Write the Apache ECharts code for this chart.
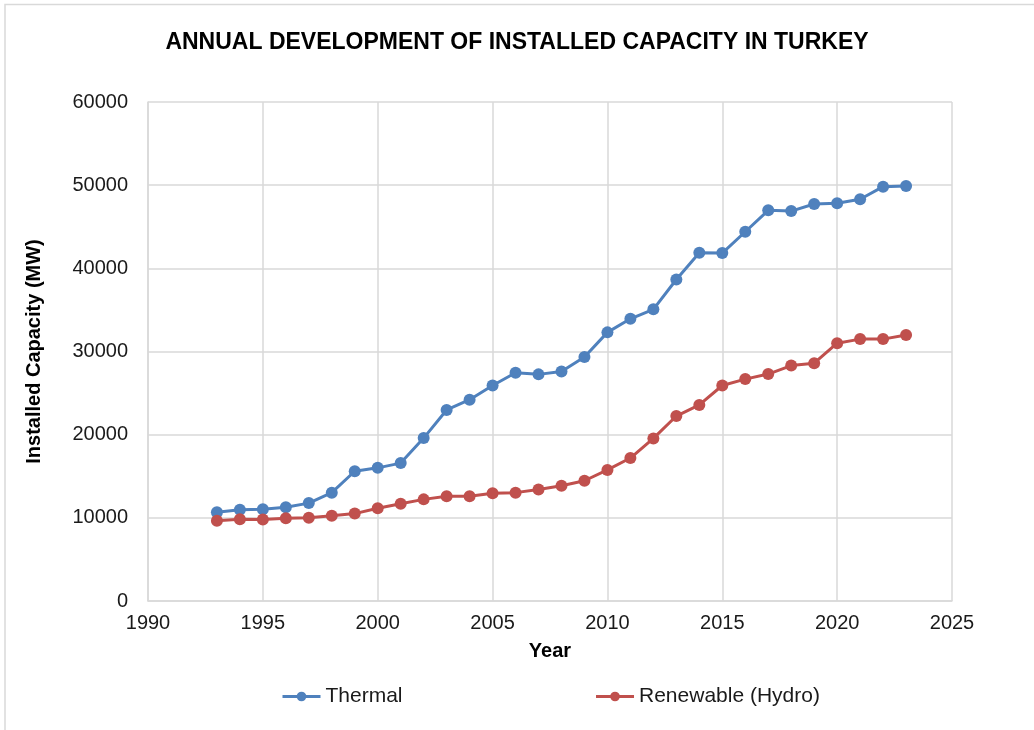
<!DOCTYPE html>
<html>
<head>
<meta charset="utf-8">
<script src="https://cdn.jsdelivr.net/npm/echarts@6/dist/echarts.min.js"></script>
<style>
  html, body { margin: 0; padding: 0; background: #fff; }
  #chart { width: 1034px; height: 730px; }
</style>
</head>
<body>
<div id="chart"></div>
<script>
var years = [1993, 1994, 1995, 1996, 1997, 1998, 1999, 2000, 2001, 2002, 2003, 2004, 2005, 2006, 2007, 2008,
             2009, 2010, 2011, 2012, 2013, 2014, 2015, 2016, 2017, 2018, 2019, 2020, 2021, 2022, 2023];
var thermal = [10670, 10960, 11040, 11280, 11770, 13030, 15600, 16010, 16580, 19590, 22970, 24200, 25910, 27450, 27250, 27600,
               29330, 32300, 33930, 35070, 38660, 41870, 41830, 44400, 46970, 46880, 47740, 47820, 48310, 49820, 49900];
var hydro = [9650, 9820, 9800, 9940, 10020, 10260, 10510, 11160, 11690, 12220, 12590, 12590, 12950, 13030, 13400, 13850,
             14460, 15760, 17190, 19550, 22240, 23580, 25910, 26680, 27290, 28310, 28590, 31000, 31490, 31490, 31980];
var seriesNames = ['Thermal', 'Renewable (Hydro)'];
var colors = ['#4f81bd', '#c0504d'];

function pairs(vals){
  var out = [];
  for(var i=0;i<years.length;i++){
    out.push([years[i], vals[i]]);
  }
  return out;
}

var myChart = echarts.init(document.getElementById('chart'));
var font = 'Liberation Sans, Arial, sans-serif';

option = {
  backgroundColor: '#fff',
  textStyle: { fontFamily: font },
  title: {
    text: 'ANNUAL DEVELOPMENT OF INSTALLED CAPACITY IN TURKEY',
    left: 'center',
    top: 26,
    textStyle: { fontSize: 23, fontWeight: 'bold', color: '#000', fontFamily: font }
  },
  graphic: [{
    type: 'rect',
    shape: { x: 5, y: 4.5, width: 1040, height: 740 },
    style: { fill: 'none', stroke: '#d9d9d9', lineWidth: 1.5 },
    silent: true
  }],
  legend: {
    data: seriesNames,
    bottom: 18,
    left: 276,
    itemGap: 192,
    itemWidth: 38,
    itemHeight: 12,
    lineStyle: { width: 3 },
    textStyle: { fontSize: 21, color: '#1a1a1a', fontFamily: font }
  },
  grid: {
    left: 148,
    right: 82,
    top: 102,
    bottom: 129
  },
  xAxis: {
    type: 'value',
    min: 1990,
    max: 2025,
    interval: 5,
    name: 'Year',
    nameLocation: 'middle',
    nameGap: 40,
    nameTextStyle: { fontSize: 20, fontWeight: 'bold', color: '#000' },
    axisLine: { lineStyle: { color: '#d9d9d9', width: 1.5 } },
    axisTick: { show: false },
    axisLabel: { fontSize: 20, color: '#1a1a1a', margin: 12, formatter: function(v){ return String(v); } },
    splitLine: { show: true, lineStyle: { color: '#d9d9d9', width: 1.5 } }
  },
  yAxis: {
    type: 'value',
    min: 0,
    max: 60000,
    interval: 10000,
    name: 'Installed Capacity (MW)',
    nameLocation: 'middle',
    nameGap: 104,
    nameTextStyle: { fontSize: 20, fontWeight: 'bold', color: '#000' },
    axisLine: { show: true, lineStyle: { color: '#d9d9d9', width: 1.5 } },
    axisTick: { show: false },
    axisLabel: { fontSize: 20, color: '#1a1a1a', margin: 20, formatter: function(v){ return String(v); } },
    splitLine: { show: true, lineStyle: { color: '#d9d9d9', width: 1.5 } }
  },
  series: [
    {
      name: seriesNames[0],
      type: 'line',
      data: pairs(thermal),
      color: colors[0],
      symbol: 'circle',
      symbolSize: 12,
      lineStyle: { width: 3 }
    },
    {
      name: seriesNames[1],
      type: 'line',
      data: pairs(hydro),
      color: colors[1],
      symbol: 'circle',
      symbolSize: 12,
      lineStyle: { width: 3 }
    }
  ]
};
myChart.setOption(option);
</script>
</body>
</html>
